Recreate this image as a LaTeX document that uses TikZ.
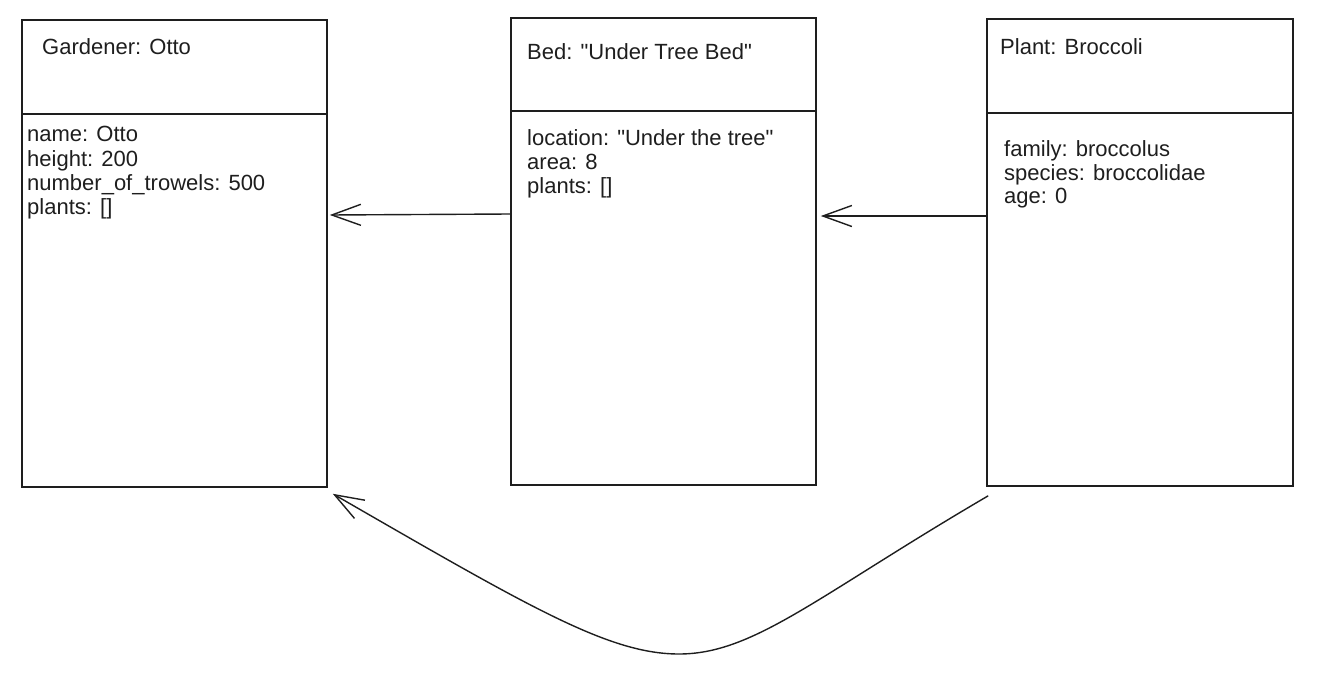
\documentclass[tikz,border=0pt]{standalone}
\usepackage{fontspec}
\setmainfont{Liberation Sans}
\usetikzlibrary{arrows.meta}
\definecolor{ink}{HTML}{1E1E1E}
\begin{document}
\begin{tikzpicture}[x=1pt,y=-1pt,
  objbox/.style={draw=ink,line width=1.6pt,rectangle,inner sep=0pt,minimum width=305pt,minimum height=467pt},
  txt/.style={anchor=base west,inner sep=0pt,text=ink,font=\fontsize{22}{24}\selectfont},
  arr/.style={draw=ink,line width=1.4pt,-{Straight Barb[length=29pt,width=21pt,line width=1.4pt]}}]
\useasboundingbox (0,0) rectangle (1324,698);
% boxes
\node[objbox] (g) at (174.5,253.5) {};
\node[objbox] (b) at (663.5,251.5) {};
\node[objbox,minimum width=306pt] (p) at (1140,252.5) {};
% dividers
\draw[ink,line width=1.6pt] (g.west |- 0,114) -- (g.east |- 0,114);
\draw[ink,line width=1.6pt] (b.west |- 0,111) -- (b.east |- 0,111);
\draw[ink,line width=1.6pt] (p.west |- 0,113) -- (p.east |- 0,113);
% texts
\node[txt] (gt) at (42,55) {Gardener: Otto};
\node[txt] (g1) at (27,142) {name: Otto};
\node[txt] (g2) at (27,166) {height: 200};
\node[txt] (g3) at (27,190) {number\_of\_trowels: 500};
\node[txt] (g4) at (27,214) {plants: []};
\node[txt] (bt) at (527,60) {Bed: \textquotedbl Under Tree Bed\textquotedbl};
\node[txt] (b1) at (527,145) {location: \textquotedbl Under the tree\textquotedbl};
\node[txt] (b2) at (527,169) {area: 8};
\node[txt] (b3) at (527,193) {plants: []};
\node[txt] (pt) at (1000,55) {Plant: Broccoli};
\node[txt] (p1) at (1004,156) {family: broccolus};
\node[txt] (p2) at (1004,180) {species: broccolidae};
\node[txt] (p3) at (1004,203) {age: 0};
% connectors
\coordinate (a1s) at (b.west |- 0,214);
\coordinate (a1e) at ([xshift=2pt]g.east |- 0,215);
\coordinate (a2s) at (p.west |- 0,216);
\coordinate (a2e) at ([xshift=4pt]b.east |- 0,216);
\coordinate (a3s) at ([xshift=2pt,yshift=-9pt]p.south west);
\coordinate (a3e) at ([xshift=5pt,yshift=-6pt]g.south east);
\coordinate (a3b) at (679,654);
\draw[arr] (a1s) -- (a1e);
\draw[arr] (a2s) -- (a2e);
\draw[arr] (a3s) .. controls (817,596) and (754,654) .. (a3b)
              .. controls (609,654) and (531,608) .. (a3e);
\end{tikzpicture}
\end{document}
